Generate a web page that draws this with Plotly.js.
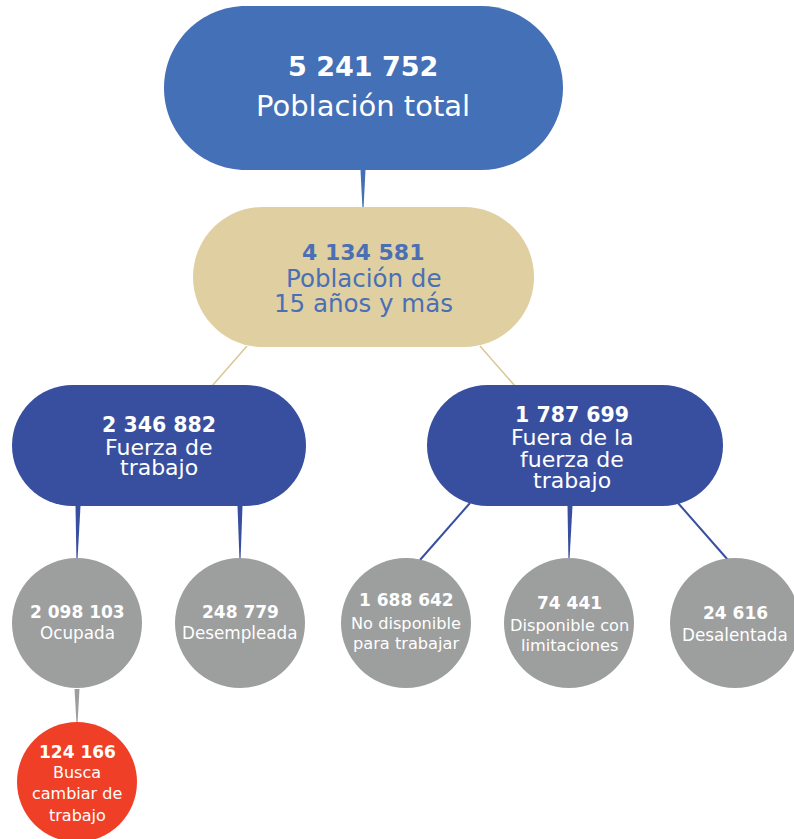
<!DOCTYPE html>
<html>
<head>
<meta charset="utf-8">
<script src="https://cdn.plot.ly/plotly-3.0.1.min.js"></script>
<style>
  html, body { margin: 0; padding: 0; background: #fff; }
  #chart { width: 794px; height: 839px; }
</style>
</head>
<body>
<div id="chart"></div>
<script>
// data: population tree
let values = [5241752, 4134581, 2346882, 1787699, 2098103, 248779, 1688642, 74441, 24616, 124166];
let labels = [
  "Población total",
  "Población de\n15 años y más",
  "Fuerza de\ntrabajo",
  "Fuera de la\nfuerza de\ntrabajo",
  "Ocupada",
  "Desempleada",
  "No disponible\npara trabajar",
  "Disponible con\nlimitaciones",
  "Desalentada",
  "Busca\ncambiar de\ntrabajo"
];
let parents = [-1, 0, 1, 1, 2, 2, 3, 3, 3, 4];

// layout of the diagram (pixels)
let boxes = [
  {kind: "pill", x0: 164, x1: 563, y0: 6, y1: 170},
  {kind: "pill", x0: 193, x1: 534, y0: 207, y1: 347},
  {kind: "pill", x0: 12, x1: 306, y0: 385, y1: 506},
  {kind: "pill", x0: 427, x1: 723, y0: 385, y1: 506},
  {kind: "circle", cx: 77, cy: 623, r: 65},
  {kind: "circle", cx: 240, cy: 623, r: 65},
  {kind: "circle", cx: 406, cy: 623, r: 65},
  {kind: "circle", cx: 569, cy: 623, r: 65},
  {kind: "circle", cx: 735, cy: 623, r: 65},
  {kind: "circle", cx: 77, cy: 782, r: 60}
];
let fills = ["#4370B6", "#E0CFA0", "#384FA0", "#384FA0", "#9D9E9E", "#9D9E9E", "#9D9E9E", "#9D9E9E", "#9D9E9E", "#EF4027"];
let inks = ["#fff", "#4A6FB5", "#fff", "#fff", "#fff", "#fff", "#fff", "#fff", "#fff", "#fff"];
let textX = [363, 363, 159, 572, 77, 240, 406, 569, 735, 77];
let lineY = [
  [66, 106], [252, 278, 303], [425, 447, 467], [415, 437, 459, 480],
  [612, 633], [612, 633], [600, 623, 643], [603, 625, 645], [613, 635],
  [752, 772, 793, 815]
];
let numSize = [27, 22, 20.5, 20.5, 17, 17, 17, 17, 17, 17];
let labSize = [29, 24.5, 22, 22, 16.8, 16.8, 16.2, 16.2, 16.8, 16];
// edges: from parent to child, [x0, y0, x1, y1, style]
let edges = [
  null,
  [363, 170, 363, 207, "wedge", "#4370B6"],
  [247, 346, 212, 386, "line", "#D8C796"],
  [480, 346, 515, 386, "line", "#D8C796"],
  [78, 506, 77, 558, "wedge", "#384FA0"],
  [240, 506, 240, 558, "wedge", "#384FA0"],
  [470, 503, 420, 560, "line", "#384FA0"],
  [570, 506, 569, 558, "wedge", "#384FA0"],
  [678, 503, 728, 560, "line", "#384FA0"],
  [77, 689, 77, 722, "wedge", "#9D9E9E"]
];

let FONT = "DejaVu Sans, Verdana, sans-serif";

function fmt(n) {
  return String(n).replace(/\B(?=(\d{3})+(?!\d))/g, " ");
}

function pillPath(b) {
  let r = (b.y1 - b.y0) / 2, k = 0.5523 * r;
  let xl = b.x0 + r, xr = b.x1 - r, ym = b.y0 + r;
  return "M" + xl + "," + b.y0 + " L" + xr + "," + b.y0 +
    " C" + (xr + k) + "," + b.y0 + " " + b.x1 + "," + (ym - k) + " " + b.x1 + "," + ym +
    " C" + b.x1 + "," + (ym + k) + " " + (xr + k) + "," + b.y1 + " " + xr + "," + b.y1 +
    " L" + xl + "," + b.y1 +
    " C" + (xl - k) + "," + b.y1 + " " + b.x0 + "," + (ym + k) + " " + b.x0 + "," + ym +
    " C" + b.x0 + "," + (ym - k) + " " + (xl - k) + "," + b.y0 + " " + xl + "," + b.y0 + " Z";
}

let shapes = [];
let annotations = [];

// connectors first so boxes sit on top
for (let i = 0; i < values.length; i++) {
  if (parents[i] < 0) continue;
  let e = edges[i];
  if (e[4] == "wedge") {
    shapes.push({
      type: "path", layer: "below",
      path: "M" + (e[0] - 2.5) + "," + e[1] + " L" + (e[0] + 2.5) + "," + e[1] + " L" + (e[2] + 0.6) + "," + e[3] + " L" + (e[2] - 0.6) + "," + e[3] + " Z",
      fillcolor: e[5], line: {width: 0}
    });
  } else {
    shapes.push({
      type: "line", layer: "below", x0: e[0], y0: e[1], x1: e[2], y1: e[3],
      line: {color: e[5], width: e[5] == "#384FA0" ? 2 : 1.5}
    });
  }
}

for (let i = 0; i < values.length; i++) {
  let b = boxes[i];
  if (b.kind == "pill") {
    shapes.push({type: "path", path: pillPath(b), fillcolor: fills[i], line: {width: 0}});
  } else {
    shapes.push({type: "circle", x0: b.cx - b.r, x1: b.cx + b.r, y0: b.cy - b.r, y1: b.cy + b.r,
      fillcolor: fills[i], line: {width: 0}});
  }
  let lines = [fmt(values[i])].concat(labels[i].split("\n"));
  for (let j = 0; j < lines.length; j++) {
    annotations.push({
      x: textX[i], y: lineY[i][j], xref: "x", yref: "y",
      text: j == 0 ? "<b>" + lines[j] + "</b>" : lines[j],
      showarrow: false, xanchor: "center", yanchor: "middle",
      font: {family: FONT, size: j == 0 ? numSize[i] : labSize[i], color: inks[i]}
    });
  }
}

let layout = {
  width: 794, height: 839,
  margin: {l: 0, r: 0, t: 0, b: 0},
  paper_bgcolor: "#fff", plot_bgcolor: "#fff",
  xaxis: {range: [0, 794], visible: false, fixedrange: true},
  yaxis: {range: [839, 0], visible: false, fixedrange: true},
  shapes: shapes,
  annotations: annotations,
  showlegend: false
};

Plotly.newPlot("chart", [], layout, {staticPlot: true});
</script>
</body>
</html>
